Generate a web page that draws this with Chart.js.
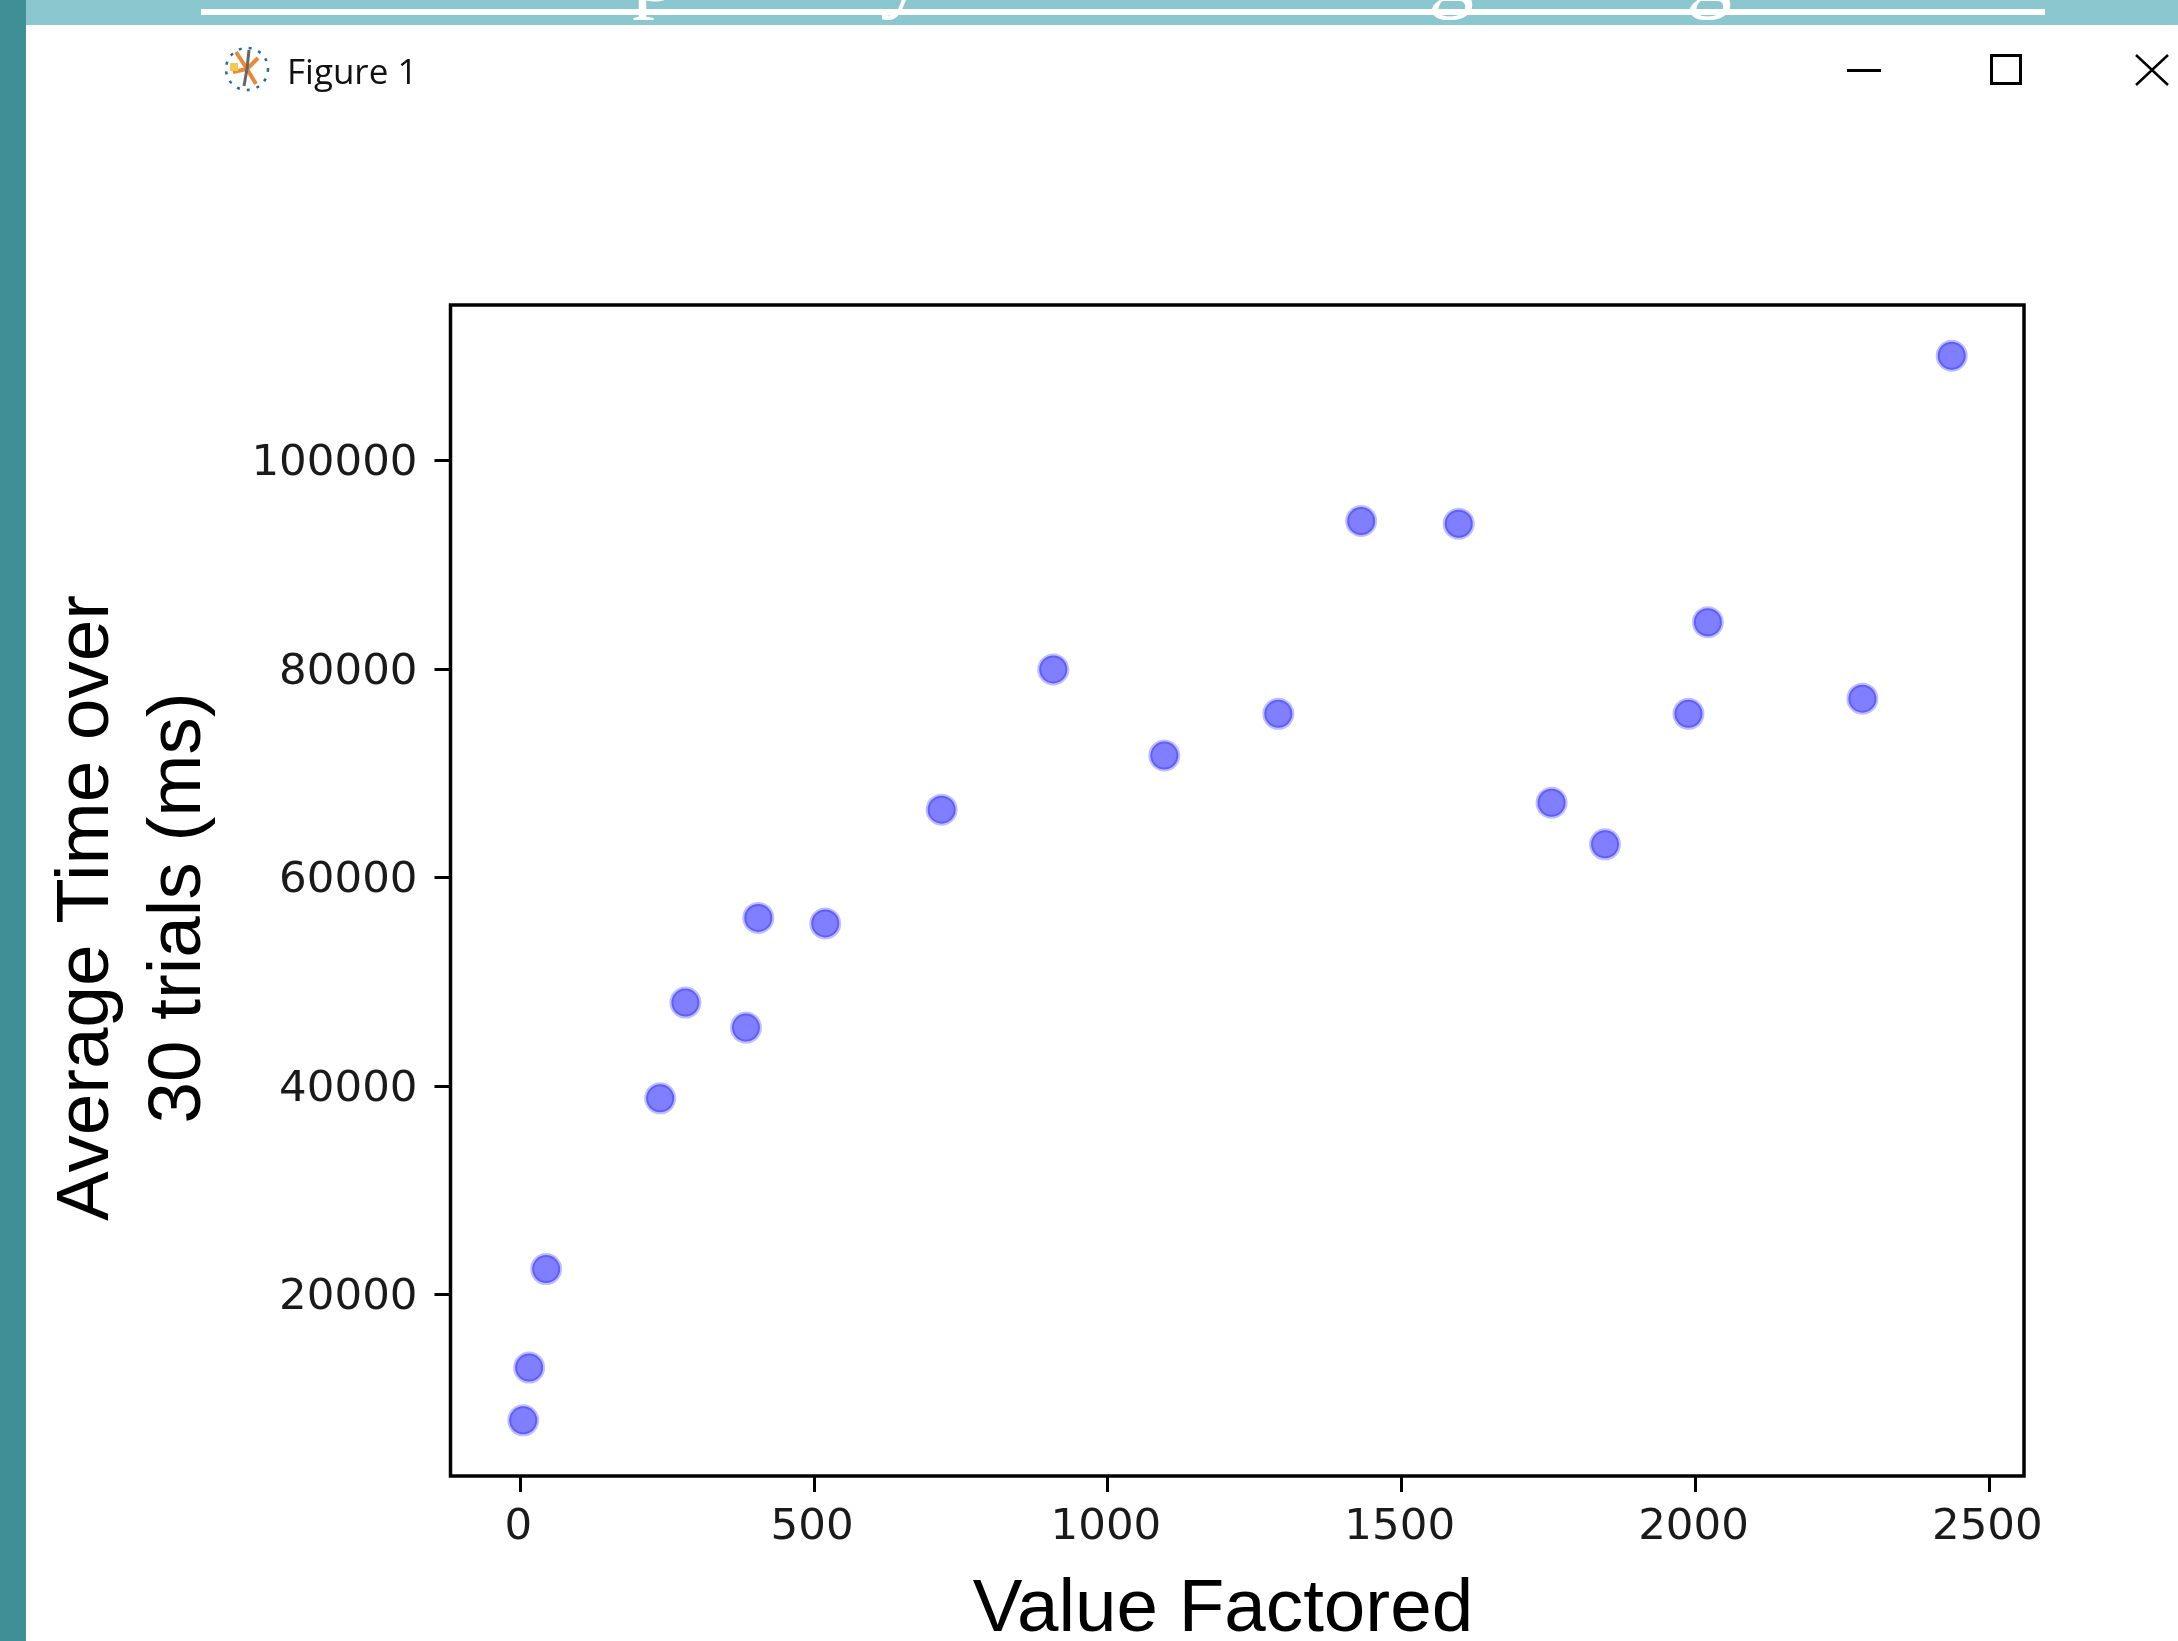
<!DOCTYPE html>
<html>
<head>
<meta charset="utf-8">
<title>Figure 1</title>
<script src="https://cdn.jsdelivr.net/npm/chart.js@4/dist/chart.umd.min.js"></script>
<style>
    html, body { margin: 0; padding: 0; background: #fff; overflow: hidden; }
    #page { position: relative; width: 2178px; height: 1641px; }
    #chart { position: absolute; left: 0; top: 0; filter: blur(0.6px); }
    #banner { position: absolute; left: 0; top: 0; width: 2178px; height: 25px; background: #8bc7cf; overflow: hidden; }
    #rule { position: absolute; left: 201px; top: 9px; width: 1844px; height: 6px; background: #fff; }
    .glyph { position: absolute; top: -80px; font: 92px/100px "Liberation Serif", serif; color: #fff; }
    #strip { position: absolute; left: 0; top: 0; width: 26px; height: 1641px; background: #3f8f96; }
    #caption { position: absolute; left: 287px; top: 49px; font: 35px/44px "Open Sans", sans-serif; color: #111; }
    #chrome { position: absolute; left: 0; top: 0; }
</style>
</head>
<body>
<div id="page">
    <canvas id="chart" width="2178" height="1641"></canvas>
    <div id="banner">
        <div id="rule"></div>
        <span class="glyph" style="left:632px">p</span>
        <span class="glyph" style="left:880px">y</span>
        <span class="glyph" style="left:1428px">g</span>
        <span class="glyph" style="left:1686px">g</span>
    </div>
    <div id="strip"></div>
    <div id="caption">Figure 1</div>
    <svg id="chrome" width="2178" height="120">
        <!-- window icon -->
        <circle cx="247" cy="69" r="21" fill="none" stroke="#1f6f99" stroke-width="2.5" stroke-dasharray="3 7"/>
        <path d="M247 69 L236 52 M247 69 L258 58 M247 69 L233 72 M247 69 L256 84" stroke="#e8893a" stroke-width="4"/>
        <path d="M247 69 L244 86 M247 69 L249 50" stroke="#666" stroke-width="3"/>
        <rect x="230" y="63" width="8" height="8" fill="#f2c94c"/>
        <!-- window buttons -->
        <rect x="1847" y="69" width="34" height="3" fill="#000"/>
        <rect x="1991.5" y="55.5" width="29" height="28" fill="none" stroke="#000" stroke-width="3"/>
        <path d="M2136 55 L2168 85 M2168 55 L2136 85" stroke="#000" stroke-width="2.5"/>
    </svg>
</div>
<script>
const xValues = [5, 15, 44, 238, 281, 384, 405, 519, 717, 907, 1096, 1290, 1431, 1597, 1755, 1846, 1988, 2021, 2284, 2436];
const yValues = [7950, 13010, 22460, 38840, 48030, 45630, 56150, 55620, 66540, 79990, 71730, 75730, 94230, 93970, 67200, 63210, 75730, 84520, 77190, 110090];
const xTicks = [0, 500, 1000, 1500, 2000, 2500];
const yTicks = [20000, 40000, 60000, 80000, 100000];
const xTitle = 'Value Factored';
const yTitle = ['Average Time over', '30 trials (ms)'];

const tickFont = { family: '"DejaVu Sans"', size: 43.5 };

// box round the plot and the two axis titles, which sit off centre in the original
const framePlugin = {
    id: 'frame',
    afterDraw(chart) {
        const { ctx, chartArea: a } = chart;
        ctx.save();
        ctx.strokeStyle = '#000';
        ctx.lineWidth = 3.5;
        ctx.strokeRect(a.left, a.top, a.right - a.left, a.bottom - a.top);

        ctx.fillStyle = '#000';
        ctx.font = '74.6px "Liberation Sans"';
        ctx.textAlign = 'center';
        ctx.textBaseline = 'alphabetic';
        ctx.fillText(xTitle, 1223, 1631);

        ctx.translate(108, 908);
        ctx.rotate(-Math.PI / 2);
        ctx.fillText(yTitle[0], 0, 0);
        ctx.fillText(yTitle[1], 0, 92);
        ctx.restore();
    }
};

new Chart(document.getElementById('chart'), {
    type: 'scatter',
    data: {
        datasets: [{
            data: xValues.map((x, i) => ({ x: x, y: yValues[i] })),
            backgroundColor: 'rgba(0, 0, 255, 0.5)',
            borderColor: 'rgba(0, 0, 255, 0.25)',
            borderWidth: 4,
            pointRadius: 14,
            pointHoverRadius: 14
        }]
    },
    options: {
        responsive: false,
        animation: false,
        layout: { padding: { left: 0, top: 305, right: 154, bottom: 0 } },
        plugins: { legend: { display: false }, tooltip: { enabled: false } },
        scales: {
            x: {
                type: 'linear',
                min: -118.8,
                max: 2559,
                afterBuildTicks: scale => { scale.ticks = xTicks.map(v => ({ value: v })); },
                afterFit: scale => { scale.height = 165; },
                border: { display: false },
                grid: { drawOnChartArea: false, drawTicks: true, tickLength: 16, tickWidth: 3, tickColor: '#000' },
                ticks: { font: tickFont, color: '#1a1a1a', padding: 10, labelOffset: -2, maxRotation: 0, autoSkip: false, callback: v => String(v) }
            },
            y: {
                type: 'linear',
                min: 2608,
                max: 114957,
                afterBuildTicks: scale => { scale.ticks = yTicks.map(v => ({ value: v })); },
                afterFit: scale => { scale.width = 450.5; },
                border: { display: false },
                grid: { drawOnChartArea: false, drawTicks: true, tickLength: 16, tickWidth: 3, tickColor: '#000' },
                ticks: { font: tickFont, color: '#1a1a1a', padding: 17, labelOffset: 3, autoSkip: false, callback: v => String(v) }
            }
        }
    },
    plugins: [framePlugin]
});
</script>
</body>
</html>
